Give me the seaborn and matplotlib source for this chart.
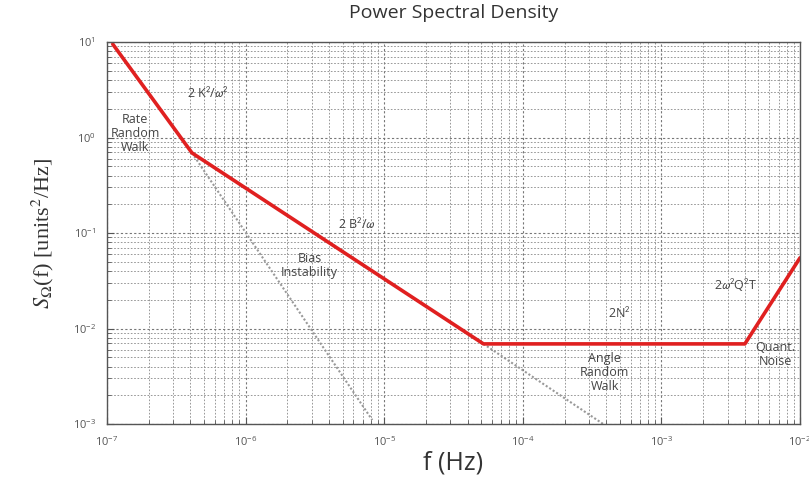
import numpy as np
import pandas as pd
import matplotlib
matplotlib.use("Agg")
import matplotlib.pyplot as plt
import matplotlib.ticker as mticker
import seaborn as sns

# Curva total de la densidad espectral (tramos rectos en log-log)
freq = [1.1e-7, 4.1e-7, 5.2e-5, 4.0e-3, 1e-2]
psd = [9.5, 0.69, 0.0069, 0.0069, 0.055]

# Prolongaciones punteadas
rrw_freq = [4.1e-7, 8.2e-6]
rrw_psd = [0.69, 1.1e-3]
bias_freq = [5.2e-5, 3.8e-4]
bias_psd = [0.0069, 1.0e-3]

# Etiquetas: (texto, x, y)
labels = [
    ("Rate\nRandom\nWalk", 1.6e-7, 1.1),
    ("2 K$^2$/$\\omega^2$", 5.3e-7, 2.9),
    ("2 B$^2$/$\\omega$", 6.4e-6, 0.124),
    ("Bias\nInstability", 2.9e-6, 0.046),
    ("2N$^2$", 5.0e-4, 0.0145),
    ("Angle\nRandom\nWalk", 3.9e-4, 0.0035),
    ("2$\\omega^2$Q$^2$T", 3.4e-3, 0.0285),
    ("Quant.\nNoise", 6.6e-3, 0.0053),
]

sns.set_style("white")
plt.rcParams["font.family"] = ["Open Sans", "DejaVu Sans"]
plt.rcParams["mathtext.fontset"] = "stixsans"

fig = plt.figure(figsize=(8.09, 4.79), dpi=100)
ax = fig.add_axes([0.1323, 0.1148, 0.8566, 0.7975])

df = pd.DataFrame({"f": freq, "S": psd})
df_rrw = pd.DataFrame({"f": rrw_freq, "S": rrw_psd})
df_bias = pd.DataFrame({"f": bias_freq, "S": bias_psd})

sns.lineplot(data=df_rrw, x="f", y="S", ax=ax, color="#999999", lw=1.5,
             linestyle=(0, (1, 1)))
sns.lineplot(data=df_bias, x="f", y="S", ax=ax, color="#999999", lw=1.5,
             linestyle=(0, (1, 1)))
sns.lineplot(data=df, x="f", y="S", ax=ax, color="#e02020", lw=2.6)

ax.set_xscale("log")
ax.set_yscale("log")
ax.set_xlim(1e-7, 1e-2)
ax.set_ylim(1e-3, 1e1)

ax.xaxis.set_major_locator(mticker.LogLocator(base=10, numticks=10))
ax.yaxis.set_major_locator(mticker.LogLocator(base=10, numticks=10))
ax.xaxis.set_minor_locator(mticker.LogLocator(base=10, subs=np.arange(2, 10), numticks=10))
ax.yaxis.set_minor_locator(mticker.LogLocator(base=10, subs=np.arange(2, 10), numticks=10))
ax.xaxis.set_minor_formatter(mticker.NullFormatter())
ax.yaxis.set_minor_formatter(mticker.NullFormatter())

ax.grid(which="major", color="#777777", linestyle=(0, (2, 2)), lw=0.8)
ax.grid(which="minor", color="#888888", linestyle=(0, (2, 2)), lw=0.6)
ax.tick_params(which="both", direction="in", bottom=True, left=True,
               labelsize=8, labelcolor="#555555", color="#555555", pad=8)
ax.tick_params(which="major", length=5)
ax.tick_params(which="minor", length=3)
for s in ax.spines.values():
    s.set_color("#555555")
    s.set_linewidth(1.0)

for txt, x, y in labels:
    ax.text(x, y, txt, ha="center", va="center", fontsize=9,
            color="#444444", linespacing=1.1)

ax.set_title("Power Spectral Density", fontsize=14, color="#333333", pad=17)
ax.set_xlabel("f (Hz)", fontsize=18, color="#333333", labelpad=1)
ax.set_ylabel("$S_\\Omega$(f) [units$^2$/Hz]", fontsize=16, color="#333333",
              family=["Liberation Serif", "DejaVu Serif"], labelpad=12)
ax.yaxis.label.set_math_fontfamily("stix")

fig.savefig("out.png", dpi=100)
